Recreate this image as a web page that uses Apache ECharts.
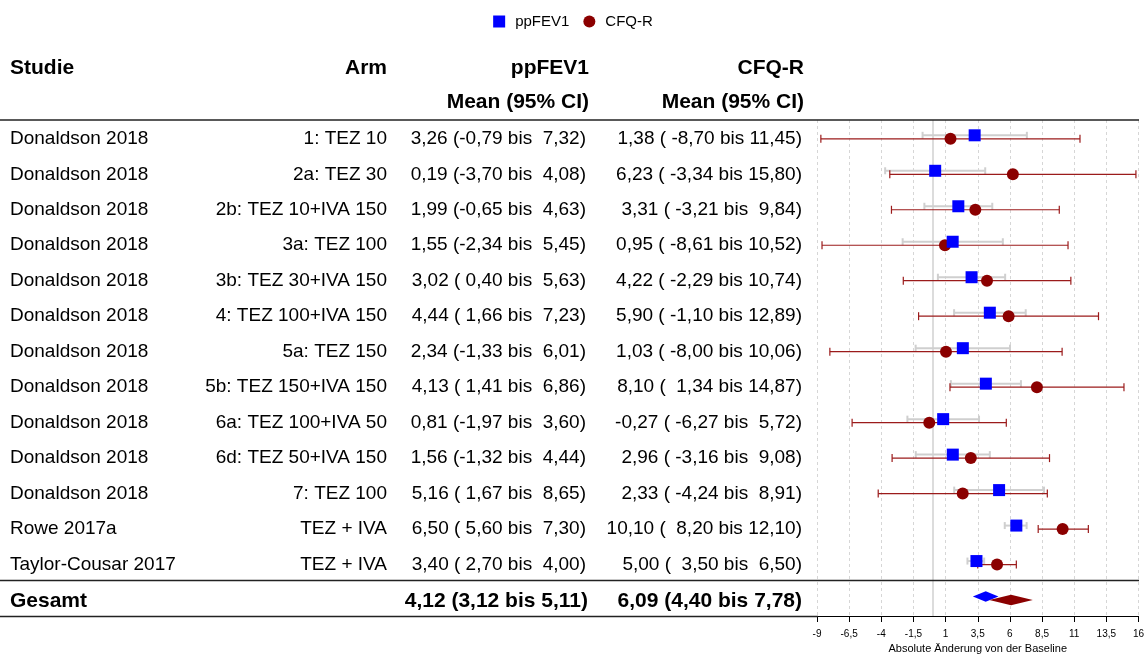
<!DOCTYPE html>
<html><head><meta charset="utf-8">
<script src="https://cdn.jsdelivr.net/npm/echarts@6/dist/echarts.min.js"></script>
<style>html,body{margin:0;padding:0;background:#fff}#c{width:1146px;height:655px}</style>
</head><body><div id="c"></div>
<script>
// ---------- data ----------
const studies = ['Donaldson 2018','Donaldson 2018','Donaldson 2018','Donaldson 2018','Donaldson 2018','Donaldson 2018','Donaldson 2018','Donaldson 2018','Donaldson 2018','Donaldson 2018','Donaldson 2018','Rowe 2017a','Taylor-Cousar 2017'];
const arms = ['1: TEZ 10','2a: TEZ 30','2b: TEZ 10+IVA 150','3a: TEZ 100','3b: TEZ 30+IVA 150','4: TEZ 100+IVA 150','5a: TEZ 150','5b: TEZ 150+IVA 150','6a: TEZ 100+IVA 50','6d: TEZ 50+IVA 150','7: TEZ 100','TEZ + IVA','TEZ + IVA'];
const ppMean = [3.26, 0.19, 1.99, 1.55, 3.02, 4.44, 2.34, 4.13, 0.81, 1.56, 5.16, 6.50, 3.40];
const ppLow  = [-0.79, -3.70, -0.65, -2.34, 0.40, 1.66, -1.33, 1.41, -1.97, -1.32, 1.67, 5.60, 2.70];
const ppHigh = [7.32, 4.08, 4.63, 5.45, 5.63, 7.23, 6.01, 6.86, 3.60, 4.44, 8.65, 7.30, 4.00];
const cfqMean = [1.38, 6.23, 3.31, 0.95, 4.22, 5.90, 1.03, 8.10, -0.27, 2.96, 2.33, 10.10, 5.00];
const cfqLow  = [-8.70, -3.34, -3.21, -8.61, -2.29, -1.10, -8.00, 1.34, -6.27, -3.16, -4.24, 8.20, 3.50];
const cfqHigh = [11.45, 15.80, 9.84, 10.52, 10.74, 12.89, 10.06, 14.87, 5.72, 9.08, 8.91, 12.10, 6.50];
const overallLabel = 'Gesamt';
const overallPP  = [4.12, 3.12, 5.11];   // mean, low, high
const overallCFQ = [6.09, 4.40, 7.78];
const xTicks = [-9, -6.5, -4, -1.5, 1, 3.5, 6, 8.5, 11, 13.5, 16];
const refLine = 0;
const headers = { study: 'Studie', arm: 'Arm', pp: 'ppFEV1', cfq: 'CFQ-R', sub: 'Mean (95% CI)' };
const axisTitle = 'Absolute Änderung von der Baseline';

// ---------- helpers ----------
const FONT = "'Liberation Sans', Arial, Helvetica, sans-serif";
const fmt = v => v.toFixed(2).replace('.', ',');
const pad = (s, w) => { while (s.length < w) s = ' ' + s; return s; };
function ciText(m, lo, hi) {
  const all = lo.concat(hi);
  const wLo = Math.max(...all.map(v => fmt(Math.abs(v)).length)) + 1;
  const wHi = Math.max(...all.map(v => fmt(v).length));
  return m.map((v, i) => fmt(v) + ' (' + pad(fmt(lo[i]), wLo) + ' bis ' + pad(fmt(hi[i]), wHi) + ')');
}
const ppText = ciText(ppMean, ppLow, ppHigh);
const cfqText = ciText(cfqMean, cfqLow, cfqHigh);
const simpleCI = a => fmt(a[0]) + ' (' + fmt(a[1]) + ' bis ' + fmt(a[2]) + ')';
const nRows = studies.length;          // overall row index = nRows

const YMIN = -0.53, YMAX = 13.45;
const SQ_OFF = -3.5;

function txt(x, y, s, align, bold, size) {
  return { type: 'text', x: x, y: y, style: { text: s, fill: '#000', align: align, verticalAlign: 'middle',
    font: (bold ? 'bold ' : '') + size + 'px ' + FONT } };
}

function ciRender(color, width, capH, offset) {
  return function (params, api) {
    const lo = api.coord([api.value(0), api.value(2)]);
    const hi = api.coord([api.value(1), api.value(2)]);
    const y = lo[1] + offset;
    const st = { stroke: color, lineWidth: width };
    return { type: 'group', children: [
      { type: 'line', shape: { x1: lo[0], y1: y, x2: hi[0], y2: y }, style: st },
      { type: 'line', shape: { x1: lo[0], y1: y - capH / 2, x2: lo[0], y2: y + capH / 2 }, style: st },
      { type: 'line', shape: { x1: hi[0], y1: y - capH / 2, x2: hi[0], y2: y + capH / 2 }, style: st }
    ]};
  };
}
function diamondRender(color, half, offset) {
  return function (params, api) {
    const m = api.coord([api.value(0), api.value(3)]);
    const lo = api.coord([api.value(1), api.value(3)]);
    const hi = api.coord([api.value(2), api.value(3)]);
    const y = m[1] + offset;
    return { type: 'polygon', shape: { points: [[lo[0], y], [m[0], y - half], [hi[0], y], [m[0], y + half]] },
      style: { fill: color, opacity: 1 } };
  };
}

const chart = echarts.init(document.getElementById('c'), null, { renderer: 'canvas' });
const option = {
  animation: false,
  backgroundColor: '#fff',
  legend: {
    data: ['ppFEV1', 'CFQ-R'], left: 'center', top: 9, itemWidth: 12, itemHeight: 12, itemGap: 14,
    textStyle: { fontFamily: FONT, fontSize: 15, color: '#000', padding: [0, 0, 0, 5] }
  },
  grid: [
    { left: 817, width: 321.5, top: 120, height: 496, outerBoundsMode: 'none', containLabel: false },
    { left: 0, width: 810, top: 120, height: 496, outerBoundsMode: 'none', containLabel: false }
  ],
  xAxis: [
    { type: 'value', gridIndex: 0, min: xTicks[0], max: xTicks[xTicks.length - 1], position: 'bottom',
      axisLine: { show: true, onZero: false, lineStyle: { color: '#000', width: 1.2 } },
      axisTick: { show: true, length: 6, customValues: xTicks, lineStyle: { color: '#000' } },
      axisLabel: { customValues: xTicks, margin: 13, fontSize: 10, color: '#000', fontFamily: FONT,
        formatter: v => String(v).replace('.', ',') },
      splitLine: { show: false },
      name: axisTitle, nameLocation: 'middle', nameGap: 26,
      nameTextStyle: { fontSize: 11, color: '#000', fontFamily: FONT } },
    { type: 'value', gridIndex: 1, min: 0, max: 810, show: false }
  ],
  yAxis: [
    { type: 'value', gridIndex: 0, min: YMIN, max: YMAX, inverse: true, show: false },
    { type: 'value', gridIndex: 1, min: YMIN, max: YMAX, inverse: true, show: false }
  ],
  graphic: [
    { type: 'text', x: 10, y: 68, style: { text: headers.study, font: 'bold 21px ' + FONT, fill: '#000', align: 'left', verticalAlign: 'middle' } },
    { type: 'text', x: 387, y: 68, style: { text: headers.arm, font: 'bold 21px ' + FONT, fill: '#000', align: 'right', verticalAlign: 'middle' } },
    { type: 'text', x: 589, y: 68, style: { text: headers.pp, font: 'bold 21px ' + FONT, fill: '#000', align: 'right', verticalAlign: 'middle' } },
    { type: 'text', x: 804, y: 68, style: { text: headers.cfq, font: 'bold 21px ' + FONT, fill: '#000', align: 'right', verticalAlign: 'middle' } },
    { type: 'text', x: 589, y: 102, style: { text: headers.sub, font: 'bold 21px ' + FONT, fill: '#000', align: 'right', verticalAlign: 'middle' } },
    { type: 'text', x: 804, y: 102, style: { text: headers.sub, font: 'bold 21px ' + FONT, fill: '#000', align: 'right', verticalAlign: 'middle' } },
    { type: 'line', shape: { x1: 0, y1: 120, x2: 1139, y2: 120 }, style: { stroke: '#222', lineWidth: 1.5 }, z: 20 },
    { type: 'line', shape: { x1: 0, y1: 580.5, x2: 1139, y2: 580.5 }, style: { stroke: '#222', lineWidth: 1.5 }, z: 20 },
    { type: 'line', shape: { x1: 0, y1: 616.5, x2: 818, y2: 616.5 }, style: { stroke: '#222', lineWidth: 1.5 }, z: 20 }
  ],
  series: [
    // table text
    { type: 'custom', name: 'table', xAxisIndex: 1, yAxisIndex: 1, clip: false, silent: true,
      data: studies.map((s, i) => [0, i]),
      renderItem: function (params, api) {
        const i = api.value(1);
        const y = api.coord([0, i])[1];
        return { type: 'group', children: [
          txt(10, y, studies[i], 'left', false, 19),
          txt(387, y, arms[i], 'right', false, 19),
          txt(586, y, ppText[i], 'right', false, 19),
          txt(802, y, cfqText[i], 'right', false, 19)
        ]};
      } },
    { type: 'custom', name: 'tableTotal', xAxisIndex: 1, yAxisIndex: 1, clip: false, silent: true,
      data: [[0, nRows]],
      renderItem: function (params, api) {
        const y = api.coord([0, api.value(1)])[1] + 1;
        return { type: 'group', children: [
          txt(10, y, overallLabel, 'left', true, 21),
          txt(588, y, simpleCI(overallPP), 'right', true, 21),
          txt(802, y, simpleCI(overallCFQ), 'right', true, 21)
        ]};
      } },
    // ppFEV1 CI (grey)
    { type: 'custom', name: 'ppCI', xAxisIndex: 0, yAxisIndex: 0, z: 3, silent: true,
      data: ppLow.map((l, i) => [l, ppHigh[i], i]),
      encode: { x: [0, 1], y: 2 },
      renderItem: ciRender('#cfcfcf', 2, 7, SQ_OFF),
      markLine: { silent: true, symbol: ['none', 'none'], z: 1, label: { show: false },
        lineStyle: { color: '#d6d6d6', type: [3, 3], width: 1 },
        data: xTicks.map(v => ({ xAxis: v })) } },
    // CFQ-R CI (dark red)
    { type: 'custom', name: 'cfqCI', xAxisIndex: 0, yAxisIndex: 0, z: 4, silent: true,
      data: cfqLow.map((l, i) => [l, cfqHigh[i], i]),
      encode: { x: [0, 1], y: 2 },
      renderItem: ciRender('#9b1b1b', 1.2, 8, 0),
      markLine: { silent: true, symbol: ['none', 'none'], z: 2, label: { show: false },
        lineStyle: { color: '#dcdcdc', type: 'solid', width: 2 },
        data: [{ xAxis: refLine }] } },
    { type: 'scatter', name: 'CFQ-R', xAxisIndex: 0, yAxisIndex: 0, z: 6,
      symbol: 'circle', symbolSize: 12, itemStyle: { color: '#8b0000', opacity: 1 },
      data: cfqMean.map((v, i) => [v, i]) },
    { type: 'scatter', name: 'ppFEV1', xAxisIndex: 0, yAxisIndex: 0, z: 7,
      symbol: 'rect', symbolSize: 12, symbolOffset: [0, SQ_OFF], itemStyle: { color: '#0000ff', opacity: 1 },
      data: ppMean.map((v, i) => [v, i]) },
    { type: 'custom', name: 'ppTotal', xAxisIndex: 0, yAxisIndex: 0, z: 8, silent: true,
      data: [[overallPP[0], overallPP[1], overallPP[2], nRows]], encode: { x: [1, 2], y: 3 },
      renderItem: diamondRender('#0000ff', 5.3, SQ_OFF) },
    { type: 'custom', name: 'cfqTotal', xAxisIndex: 0, yAxisIndex: 0, z: 9, silent: true,
      data: [[overallCFQ[0], overallCFQ[1], overallCFQ[2], nRows]], encode: { x: [1, 2], y: 3 },
      renderItem: diamondRender('#8b0000', 5.3, 0) }
  ]
};
chart.setOption(option);
</script></body></html>
